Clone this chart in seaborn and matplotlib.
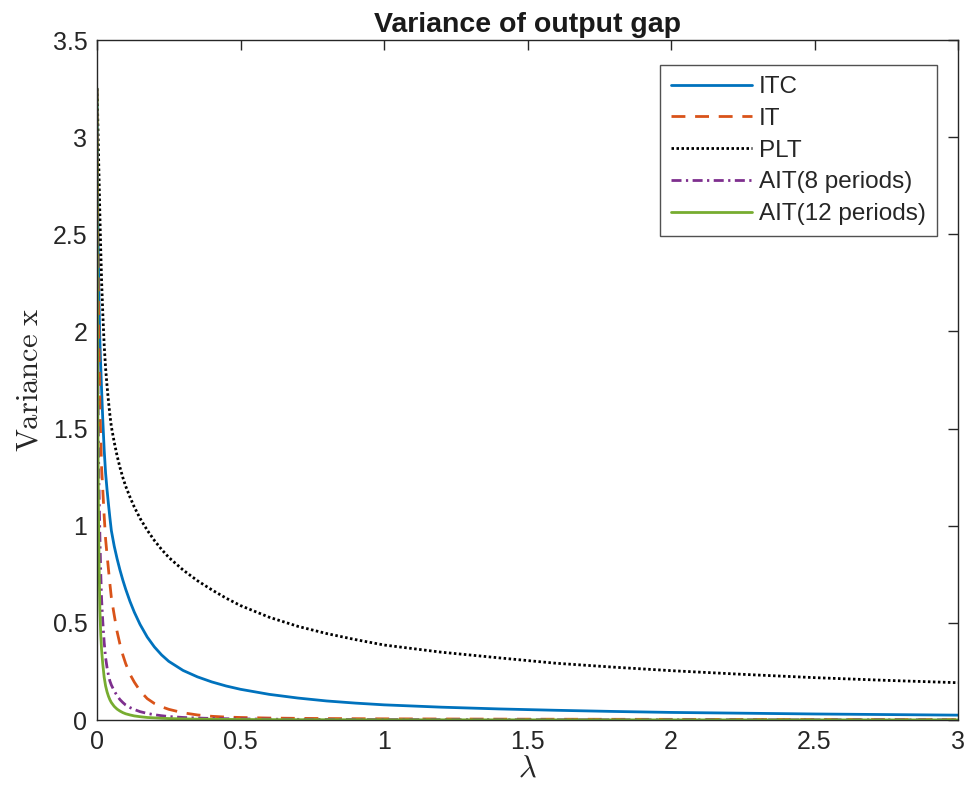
import matplotlib
matplotlib.use("Agg")
import matplotlib.pyplot as plt
import seaborn as sns
import pandas as pd

# lambda grid
lam = [0, 0.001, 0.002, 0.003, 0.004, 0.005, 0.007, 0.01, 0.013, 0.016, 0.02, 0.025,
       0.03, 0.035, 0.04, 0.045, 0.05, 0.06, 0.07, 0.08, 0.09, 0.1, 0.115, 0.13,
       0.15, 0.175, 0.2, 0.225, 0.25, 0.3, 0.35, 0.4, 0.45, 0.5, 0.6, 0.7,
       0.8, 0.9, 1.0, 1.2, 1.4, 1.6, 1.8, 2.0, 2.25, 2.5, 2.75, 3.0]

itc = [3.25, 3.0, 2.8, 2.6, 2.45, 2.35, 2.15, 1.95, 1.82, 1.7, 1.55, 1.39,
       1.27, 1.185, 1.11, 1.04, 0.975, 0.895, 0.83, 0.772, 0.72, 0.673, 0.61, 0.555,
       0.492, 0.427, 0.376, 0.335, 0.302, 0.255, 0.222, 0.196, 0.175, 0.158, 0.132, 0.113,
       0.098, 0.087, 0.078, 0.066, 0.057, 0.05, 0.044, 0.039, 0.035, 0.031, 0.028, 0.025]

it = [3.25, 2.95, 2.7, 2.48, 2.3, 2.15, 1.9, 1.62, 1.45, 1.30, 1.19, 1.05,
      0.93, 0.85, 0.775, 0.70, 0.63, 0.54, 0.455, 0.39, 0.335, 0.29, 0.235, 0.195,
      0.15, 0.11, 0.085, 0.068, 0.055, 0.037, 0.026, 0.019, 0.015, 0.013, 0.010, 0.0085,
      0.0075, 0.0067, 0.006, 0.0052, 0.0045, 0.004, 0.0036, 0.0033, 0.003, 0.0027, 0.0024, 0.0022]

plt_ = [3.25, 3.2, 3.14, 3.07, 3.0, 2.93, 2.8, 2.6, 2.42, 2.26, 2.1, 1.93,
        1.81, 1.72, 1.64, 1.57, 1.51, 1.43, 1.36, 1.30, 1.248, 1.203, 1.147, 1.096,
        1.038, 0.977, 0.924, 0.878, 0.837, 0.772, 0.717, 0.67, 0.627, 0.589, 0.529, 0.482,
        0.445, 0.414, 0.386, 0.349, 0.32, 0.292, 0.272, 0.254, 0.235, 0.218, 0.204, 0.192]

ait8 = [3.25, 2.65, 2.2, 1.85, 1.6, 1.42, 1.2, 0.95, 0.76, 0.62, 0.51, 0.40,
        0.32, 0.27, 0.23, 0.2, 0.18, 0.15, 0.125, 0.105, 0.09, 0.077, 0.064, 0.054,
        0.043, 0.034, 0.027, 0.022, 0.018, 0.013, 0.010, 0.008, 0.0065, 0.0055, 0.0043, 0.0035,
        0.003, 0.0026, 0.0023, 0.0019, 0.0016, 0.0014, 0.0013, 0.0012, 0.0011, 0.001, 0.001, 0.0009]

ait12 = [3.25, 2.5, 1.9, 1.55, 1.3, 1.1, 0.82, 0.57, 0.44, 0.36, 0.29, 0.22,
         0.175, 0.145, 0.122, 0.104, 0.09, 0.07, 0.056, 0.046, 0.038, 0.032, 0.026, 0.021,
         0.017, 0.013, 0.011, 0.009, 0.0075, 0.0056, 0.0044, 0.0036, 0.003, 0.0026, 0.002, 0.0016,
         0.0014, 0.0012, 0.001, 0.0009, 0.0008, 0.0007, 0.0007, 0.0006, 0.0006, 0.0006, 0.0005, 0.0005]

labels = ["ITC", "IT", "PLT", "AIT(8 periods)", "AIT(12 periods)"]
series = [itc, it, plt_, ait8, ait12]
colors = ["#0072BD", "#D95319", "#000000", "#7E2F8E", "#77AC30"]
styles = ["-", (0, (5.0, 3.5)), (0, (0.9, 0.9)), (0, (3.6, 1.6, 0.8, 1.6)), "-"]

sns.set_style("white")
plt.rcParams['font.family'] = ['Liberation Sans', 'DejaVu Sans']
plt.rcParams['mathtext.fontset'] = 'cm'

fig = plt.figure(figsize=(9.68, 8.01), dpi=100)
ax = fig.add_axes([97/968, 81/801, (958-97)/968, (720-40)/801])

for lab, ys, c, ls in zip(labels, series, colors, styles):
    df = pd.DataFrame({"lam": lam, "v": ys})
    sns.lineplot(data=df, x="lam", y="v", ax=ax, color=c, linestyle=ls,
                 linewidth=2.0, label=lab, estimator=None, sort=True)

ax.set_xlim(0, 3)
ax.set_ylim(0, 3.5)
ax.set_xticks([0, 0.5, 1, 1.5, 2, 2.5, 3])
ax.set_xticklabels(["0", "0.5", "1", "1.5", "2", "2.5", "3"])
ax.set_yticks([0, 0.5, 1, 1.5, 2, 2.5, 3, 3.5])
ax.set_yticklabels(["0", "0.5", "1", "1.5", "2", "2.5", "3", "3.5"])
ax.tick_params(direction="in", length=7, width=1.0, color="#262626",
               labelsize=18, labelcolor="#262626", top=True, right=True, pad=7)
for s in ax.spines.values():
    s.set_color("#262626")
    s.set_linewidth(1.0)

ax.set_title("Variance of output gap", fontsize=20.5, fontweight="bold", pad=5.5,
             color="#1a1a1a")
ax.set_xlabel(r"$\lambda$", fontsize=22, labelpad=0)
ax.set_ylabel(r"$\mathrm{Variance\ x}$", fontsize=22, labelpad=6)

leg = ax.legend(loc="upper right", bbox_to_anchor=(0.9756, 0.9632), borderaxespad=0,
                fontsize=17.5, frameon=True, fancybox=False,
                edgecolor="#262626", handlelength=3.3, handletextpad=0.3,
                borderpad=0.46, labelspacing=0.4)
leg.get_frame().set_linewidth(1.0)
for t in leg.get_texts():
    t.set_color("#262626")

fig.savefig("out.png", dpi=100)
